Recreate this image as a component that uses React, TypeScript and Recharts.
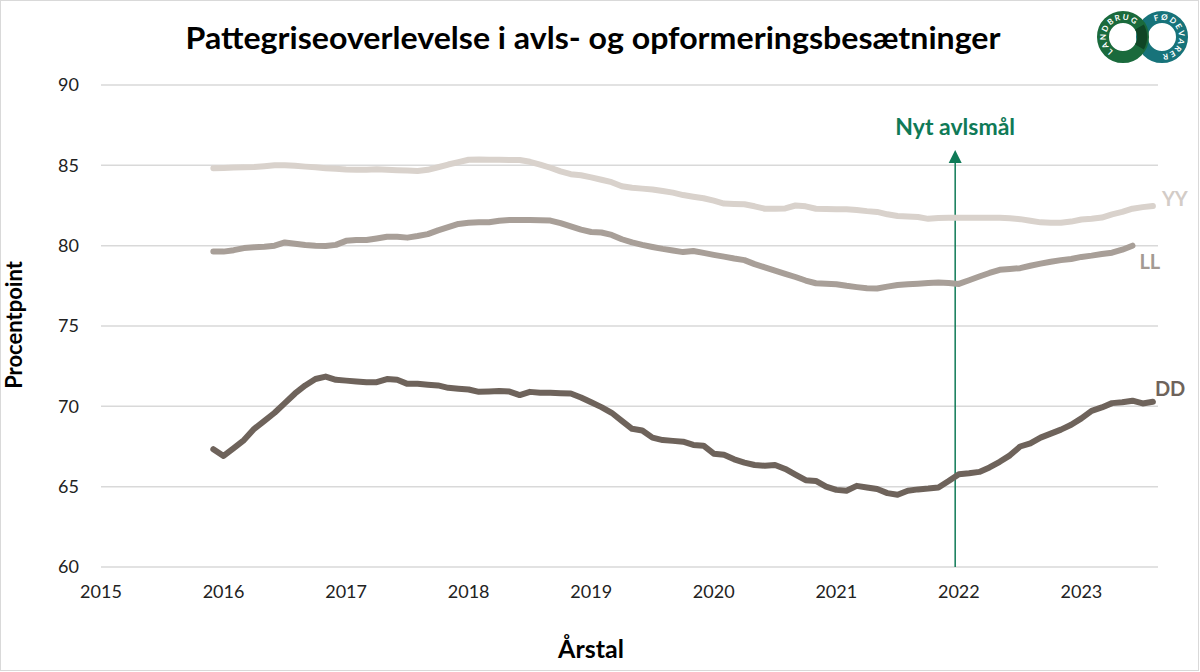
import React from 'react';
import {
  LineChart,
  Line,
  XAxis,
  YAxis,
  CartesianGrid,
  ReferenceLine,
  LabelList,
} from 'recharts';

// monthly series, first point is December 2015
const START_YEAR = 2015;
const START_MONTH = 12;

const yearTicks = [2015, 2016, 2017, 2018, 2019, 2020, 2021, 2022, 2023];
const valueTicks = [60, 65, 70, 75, 80, 85, 90];

const yy = [
  84.82, 84.84, 84.86, 84.88, 84.9, 84.95, 85.0, 85.0, 84.97, 84.92, 84.88, 84.82,
  84.78, 84.74, 84.72, 84.73, 84.75, 84.73, 84.7, 84.68, 84.65, 84.72, 84.88, 85.05,
  85.2, 85.35, 85.37, 85.35, 85.34, 85.33, 85.33, 85.22, 85.05, 84.85, 84.62, 84.45,
  84.38, 84.25, 84.1, 83.95, 83.7, 83.6, 83.55, 83.5, 83.4, 83.3, 83.15, 83.05,
  82.95, 82.8, 82.62, 82.6, 82.58, 82.45, 82.3, 82.3, 82.32, 82.5, 82.45, 82.3,
  82.28, 82.27, 82.26, 82.22, 82.15, 82.1, 81.95, 81.85, 81.82, 81.78, 81.67, 81.72,
  81.74, 81.74, 81.74, 81.74, 81.74, 81.73, 81.7, 81.65, 81.55, 81.45, 81.42, 81.43,
  81.5, 81.63, 81.67, 81.75, 81.95, 82.1, 82.3, 82.4, 82.47,
];

const ll = [
  79.63, 79.63, 79.72, 79.85, 79.9, 79.93, 80.0, 80.2, 80.12, 80.04, 80.0, 79.98,
  80.05, 80.3, 80.35, 80.35, 80.45, 80.55, 80.55, 80.5, 80.6, 80.72, 80.95, 81.15,
  81.35, 81.42, 81.45, 81.46, 81.55, 81.6, 81.6, 81.6, 81.58, 81.56, 81.4, 81.2,
  81.0, 80.85, 80.82, 80.67, 80.4, 80.2, 80.05, 79.92, 79.8, 79.7, 79.6, 79.67,
  79.55, 79.43, 79.32, 79.2, 79.1, 78.85, 78.65, 78.45, 78.25, 78.05, 77.83, 77.66,
  77.63, 77.6, 77.5, 77.42, 77.35, 77.33, 77.45, 77.55, 77.6, 77.63, 77.67, 77.7,
  77.68, 77.62, 77.85, 78.08, 78.3, 78.5, 78.55, 78.6, 78.75, 78.88, 79.0, 79.1,
  79.17, 79.3, 79.38, 79.48, 79.56, 79.75, 80.0,
];

const dd = [
  67.33, 66.91, 67.4, 67.9, 68.6, 69.1, 69.6, 70.2, 70.8, 71.3, 71.7, 71.85,
  71.65, 71.6, 71.55, 71.5, 71.5, 71.7, 71.65, 71.4, 71.4, 71.35, 71.3, 71.15,
  71.1, 71.05, 70.9, 70.92, 70.95, 70.92, 70.7, 70.9, 70.85, 70.85, 70.82, 70.8,
  70.55, 70.25, 69.95, 69.6, 69.1, 68.6, 68.5, 68.05, 67.9, 67.85, 67.8, 67.6,
  67.55, 67.05, 66.98, 66.7, 66.5, 66.35, 66.3, 66.35, 66.1, 65.75, 65.4, 65.36,
  65.0, 64.8, 64.75, 65.05, 64.95, 64.85, 64.6, 64.5, 64.75, 64.83, 64.88, 64.95,
  65.35, 65.77, 65.83, 65.92, 66.2, 66.55, 66.95, 67.5, 67.7, 68.05, 68.3, 68.55,
  68.85, 69.25, 69.72, 69.93, 70.2, 70.25, 70.35, 70.18, 70.28,
];

// new breeding goal, end of 2021
const NEW_GOAL_YEAR = 2021.97;
const ARROW_TOP = 85.95;

const data = dd.map((v, i) => {
  const m = START_MONTH - 1 + i;
  const year = START_YEAR + Math.floor(m / 12);
  return {
    t: year + (m % 12) / 12,
    YY: yy[i] ?? null,
    LL: ll[i] ?? null,
    DD: v,
  };
});

const FONT = 'Lato, "Open Sans", sans-serif';
const GREEN = '#0f7a57';

const endLabel =
  (name: string, color: string, lastIndex: number, dx: number, dy: number) =>
  (props: any) => {
    if (props.index !== lastIndex) return null;
    return (
      <text
        x={props.x + dx}
        y={props.y + dy}
        fill={color}
        fontSize={20}
        fontWeight={700}
        fontFamily={FONT}
      >
        {name}
      </text>
    );
  };

const GoalArrow = (props: any) => {
  const { x1, y1, y2 } = props;
  const top = Math.min(y1, y2);
  const bottom = Math.max(y1, y2);
  return (
    <g>
      <line x1={x1} y1={bottom} x2={x1} y2={top + 10} stroke={GREEN} strokeWidth={1.5} />
      <polygon
        points={`${x1},${top} ${x1 - 6.5},${top + 13} ${x1 + 6.5},${top + 13}`}
        fill={GREEN}
      />
      <text
        x={x1}
        y={top - 15}
        textAnchor="middle"
        fill={GREEN}
        fontSize={23}
        fontWeight={700}
        fontFamily={FONT}
      >
        Nyt avlsmål
      </text>
    </g>
  );
};

const ringPath = (cx: number, cy: number, r: number, a0: number, a1: number) => {
  const rad = (a: number) => (a * Math.PI) / 180;
  const sx = cx + r * Math.cos(rad(a0));
  const sy = cy + r * Math.sin(rad(a0));
  const ex = cx + r * Math.cos(rad(a1));
  const ey = cy + r * Math.sin(rad(a1));
  return `M ${sx} ${sy} A ${r} ${r} 0 1 1 ${ex} ${ey}`;
};

const Logo = () => (
  <g>
    <defs>
      <path id="lb-path" d={ringPath(1123, 37, 17, 125, 345)} />
      <path id="fv-path" d={ringPath(1162, 37, 17, -115, 125)} />
    </defs>
    <circle cx={1162} cy={37} r={20} fill="none" stroke="#17737a" strokeWidth={12} />
    <circle cx={1123} cy={37} r={20} fill="none" stroke="#1a6a3c" strokeWidth={12} />
    <path d="M1139.5 27 A20 20 0 0 1 1139.5 47" fill="none" stroke="#0f4526" strokeWidth={10} />
    <text fontSize={8} fontWeight={700} fill="#fff" fontFamily={FONT} letterSpacing={1.6}>
      <textPath href="#lb-path">LANDBRUG</textPath>
    </text>
    <text fontSize={8} fontWeight={700} fill="#fff" fontFamily={FONT} letterSpacing={1.6}>
      <textPath href="#fv-path">FØDEVARER</textPath>
    </text>
  </g>
);

export default function App() {
  const last = data.length - 1;
  return (
    <div
      style={{
        position: 'absolute',
        left: 0,
        top: 0,
        width: 1200,
        height: 672,
        background: '#fff',
        fontFamily: FONT,
      }}
    >
      <LineChart
        width={1200}
        height={672}
        data={data}
        margin={{ top: 85, right: 42, bottom: 75, left: 0 }}
      >
        <CartesianGrid vertical={false} stroke="#d9d9d9" strokeWidth={1.5} />
        <XAxis
          dataKey="t"
          type="number"
          domain={[2015, 2023.625]}
          ticks={yearTicks}
          allowDataOverflow
          axisLine={false}
          tickLine={false}
          tickMargin={12}
          height={30}
          tick={{ fill: '#222', fontSize: 18, fontFamily: FONT }}
        />
        <YAxis
          type="number"
          domain={[60, 90]}
          ticks={valueTicks}
          width={101}
          axisLine={false}
          tickLine={false}
          tickMargin={16}
          tick={{ fill: '#222', fontSize: 18, fontFamily: FONT }}
        />
        <ReferenceLine
          segment={[
            { x: NEW_GOAL_YEAR, y: 60 },
            { x: NEW_GOAL_YEAR, y: ARROW_TOP },
          ]}
          shape={GoalArrow}
        />
        <Line
          dataKey="YY"
          stroke="#d9d2cc"
          strokeWidth={6}
          dot={false}
          strokeLinecap="round"
          strokeLinejoin="round"
          isAnimationActive={false}
        >
          <LabelList content={endLabel('YY', '#d3ccc7', last, 9, 0)} />
        </Line>
        <Line
          dataKey="LL"
          stroke="#a89f98"
          strokeWidth={6}
          dot={false}
          strokeLinecap="round"
          strokeLinejoin="round"
          isAnimationActive={false}
        >
          <LabelList content={endLabel('LL', '#a39a93', ll.length - 1, 7, 23)} />
        </Line>
        <Line
          dataKey="DD"
          stroke="#6e635b"
          strokeWidth={6}
          dot={false}
          strokeLinecap="round"
          strokeLinejoin="round"
          isAnimationActive={false}
        >
          <LabelList content={endLabel('DD', '#6e635b', last, 2, -6)} />
        </Line>
      </LineChart>

      <svg
        width={1200}
        height={672}
        style={{ position: 'absolute', left: 0, top: 0, pointerEvents: 'none' }}
      >
        <rect x={0.5} y={0.5} width={1198} height={670} fill="none" stroke="#d9d9d9" />
        <text
          x={593}
          y={49}
          textAnchor="middle"
          fontSize={30}
          fontWeight={700}
          fill="#000"
          fontFamily={FONT}
          textLength={815}
          lengthAdjust="spacingAndGlyphs"
        >
          Pattegriseoverlevelse i avls- og opformeringsbesætninger
        </text>
        <text
          x={0}
          y={0}
          transform="translate(22 325) rotate(-90)"
          textAnchor="middle"
          fontSize={22}
          fontWeight={700}
          fill="#000"
          fontFamily={FONT}
        >
          Procentpoint
        </text>
        <text
          x={591}
          y={658}
          textAnchor="middle"
          fontSize={25}
          fontWeight={700}
          fill="#000"
          fontFamily={FONT}
        >
          Årstal
        </text>
        <Logo />
      </svg>
    </div>
  );
}
